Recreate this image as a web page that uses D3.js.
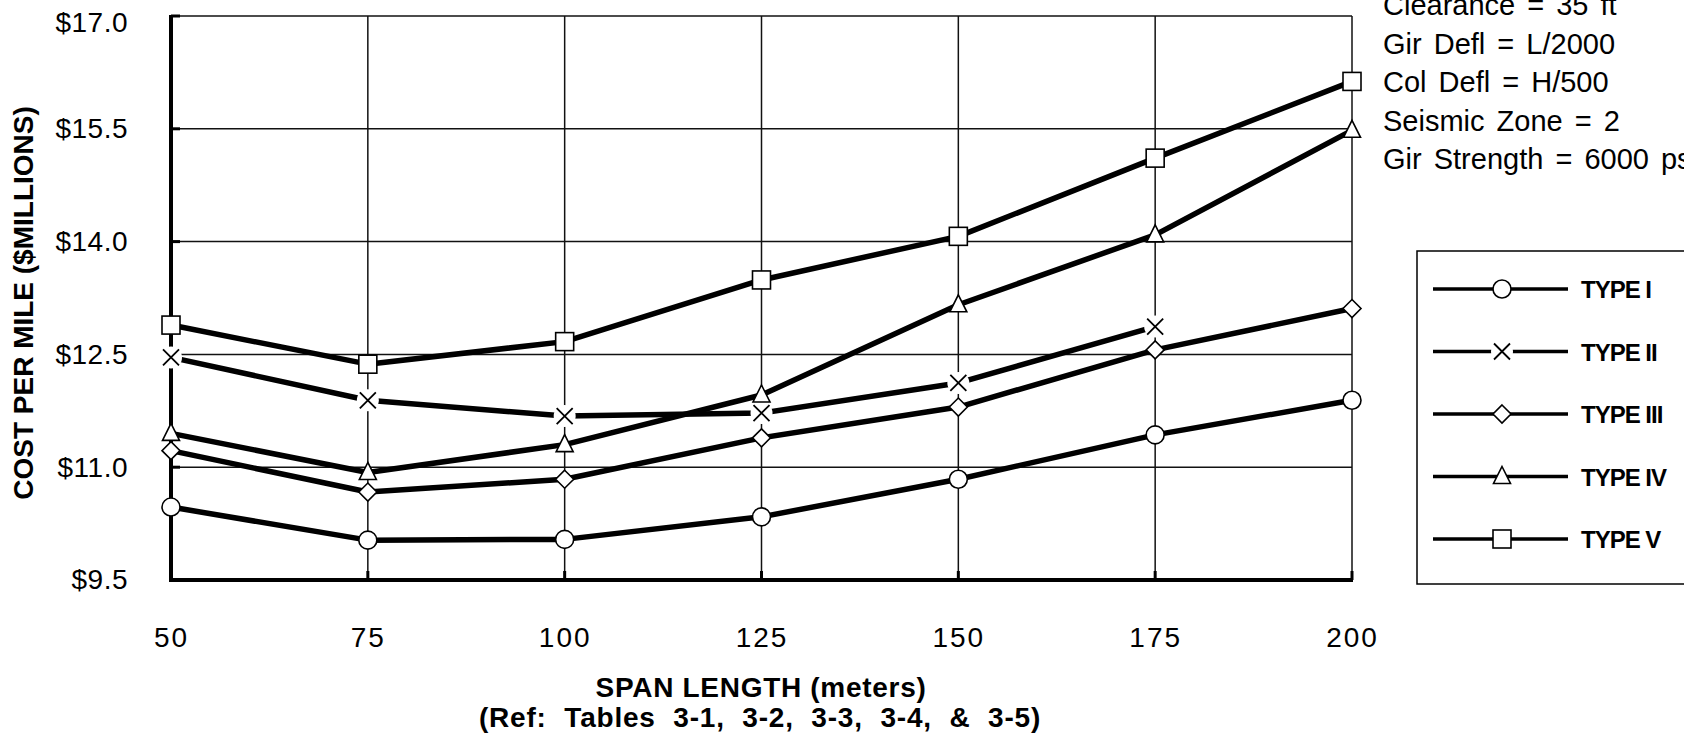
<!DOCTYPE html>
<html>
<head>
<meta charset="utf-8">
<script src="https://cdn.jsdelivr.net/npm/d3@7"></script>
<style>
  html, body { margin: 0; padding: 0; background: #fff; overflow: hidden; }
  svg { display: block; font-family: "Liberation Sans", Arial, Helvetica, sans-serif; }
</style>
</head>
<body>
<svg id="chart" width="1684" height="745"></svg>
<script>
// ---- data ----
const spans = [50, 75, 100, 125, 150, 175, 200];
const typeI   = [10.47, 10.03, 10.04, 10.34, 10.84, 11.43, 11.89];
const typeII  = [12.46, 11.89, 11.68, 11.72, 12.12, 12.87, null];
const typeIII = [11.22, 10.67, 10.84, 11.39, 11.80, 12.56, 13.11];
const typeIV  = [11.45, 10.93, 11.30, 11.96, 13.16, 14.09, 15.48];
const typeV   = [12.89, 12.37, 12.67, 13.49, 14.07, 15.11, 16.13];
const seriesNames = ["TYPE I", "TYPE II", "TYPE III", "TYPE IV", "TYPE V"];
const markerShapes = ["circle", "x", "diamond", "triangle", "square"];
const yTicks = [9.5, 11.0, 12.5, 14.0, 15.5, 17.0];
const notes = ["Clearance = 35 ft", "Gir Defl = L/2000", "Col Defl = H/500", "Seismic Zone = 2", "Gir Strength = 6000 psi"];
const yTitle = "COST PER MILE ($MILLIONS)";
const xTitle = "SPAN LENGTH (meters)";
const xSubTitle = "(Ref: Tables 3-1, 3-2, 3-3, 3-4, & 3-5)";

const seriesValues = [typeI, typeII, typeIII, typeIV, typeV];

// ---- layout ----
const svg = d3.select("#chart");
const pL = 171, pR = 1352, pT = 16, pB = 580;
const x = d3.scaleLinear().domain([50, 200]).range([pL, pR]);
const y = d3.scaleLinear().domain([9.5, 17]).range([pB, pT]);

// gridlines
const grid = svg.append("g").attr("stroke", "#111").attr("stroke-width", 1.5);
grid.selectAll("line.h").data(yTicks.filter(d => d > 9.5)).join("line").attr("class", "h")
  .attr("x1", pL).attr("x2", pR).attr("y1", d => y(d)).attr("y2", d => y(d));
grid.selectAll("line.v").data(spans.filter(d => d > 50)).join("line").attr("class", "v")
  .attr("x1", d => x(d)).attr("x2", d => x(d)).attr("y1", pT).attr("y2", pB);

// thick axes
svg.append("line").attr("x1", x(50)).attr("x2", x(50)).attr("y1", pT - 1).attr("y2", pB + 2)
  .attr("stroke", "#000").attr("stroke-width", 4);
svg.append("line").attr("x1", pL - 2).attr("x2", pR + 1).attr("y1", y(9.5)).attr("y2", y(9.5))
  .attr("stroke", "#000").attr("stroke-width", 4);
// small tick stubs
svg.append("g").selectAll("line").data(yTicks).join("line")
  .attr("x1", pL).attr("x2", pL + 9).attr("y1", d => y(d)).attr("y2", d => y(d))
  .attr("stroke", "#000").attr("stroke-width", 3);
svg.append("g").selectAll("line").data(spans).join("line")
  .attr("x1", d => x(d)).attr("x2", d => x(d)).attr("y1", pB).attr("y2", pB - 9)
  .attr("stroke", "#000").attr("stroke-width", 3);

// axes labels via d3 axes
const yAxis = svg.append("g").attr("transform", `translate(${pL},0)`)
  .call(d3.axisLeft(y).tickValues(yTicks).tickSize(0).tickPadding(43)
    .tickFormat(d => "$" + d.toFixed(1)));
yAxis.select(".domain").remove();
yAxis.selectAll("text").attr("font-size", 28).attr("fill", "#000")
  .attr("font-family", "Liberation Sans, Arial, sans-serif")
  .style("letter-spacing", "0.5px")
  .attr("dy", d => d === 17 ? "0.55em" : "0.32em");

const xAxis = svg.append("g").attr("transform", `translate(0,${pB})`)
  .call(d3.axisBottom(x).tickValues(spans).tickSize(0).tickPadding(47).tickFormat(d3.format("d")));
xAxis.select(".domain").remove();
xAxis.selectAll("text").attr("font-size", 28).attr("fill", "#000")
  .attr("font-family", "Liberation Sans, Arial, sans-serif")
  .style("letter-spacing", "2px");

// titles
svg.append("text").attr("transform", "translate(33,303) rotate(-90)")
  .attr("text-anchor", "middle").attr("font-size", 28).attr("font-weight", "bold").text(yTitle);
svg.append("text").attr("x", 761).attr("y", 697).attr("text-anchor", "middle")
  .attr("font-size", 28).attr("font-weight", "bold").style("letter-spacing", "0.7px").text(xTitle);
svg.append("text").attr("x", 760).attr("y", 727).attr("text-anchor", "middle")
  .attr("font-size", 28).attr("font-weight", "bold")
  .style("word-spacing", "9px").style("letter-spacing", "0.8px").text(xSubTitle);

// notes
svg.append("g").selectAll("text").data(notes).join("text")
  .attr("x", 1383).attr("y", (d, i) => 15 + i * 38.5)
  .attr("font-size", 29).style("word-spacing", "4px").text(d => d);

// marker drawing
function drawMarker(g, shape) {
  let el;
  if (shape === "circle") el = g.append("circle").attr("r", 9);
  else if (shape === "square") el = g.append("rect").attr("x", -9).attr("y", -9).attr("width", 18).attr("height", 18);
  else if (shape === "diamond") el = g.append("path").attr("d", "M0,-9L9,0L0,9L-9,0Z");
  else if (shape === "triangle") el = g.append("path").attr("d", "M0,-10L8.5,7L-8.5,7Z");
  else if (shape === "x") {
    g.append("circle").attr("r", 11).attr("fill", "#fff");
    g.append("path").attr("d", "M-8,-8L8,8M-8,8L8,-8").attr("fill", "none")
      .attr("stroke", "#000").attr("stroke-width", 1.8);
    return;
  }
  el.attr("fill", "#fff").attr("stroke", "#000").attr("stroke-width", 1.6);
}

// series lines
const line = d3.line().defined(d => d[1] != null).x(d => x(d[0])).y(d => y(d[1]));
seriesValues.forEach((vals) => {
  const pts = spans.map((s, i) => [s, vals[i]]);
  svg.append("path").datum(pts).attr("d", line).attr("fill", "none")
    .attr("stroke", "#000").attr("stroke-width", 5.5).attr("stroke-linejoin", "round");
});
seriesValues.forEach((vals, si) => {
  spans.forEach((s, i) => {
    if (vals[i] == null) return;
    const g = svg.append("g").attr("transform", `translate(${x(s)},${y(vals[i])})`);
    drawMarker(g, markerShapes[si]);
  });
});

// legend
svg.append("rect").attr("x", 1417).attr("y", 251).attr("width", 320).attr("height", 333)
  .attr("fill", "#fff").attr("stroke", "#000").attr("stroke-width", 1.5);
const legY = d3.scalePoint().domain(seriesNames).range([289, 539]);
seriesNames.forEach((name, i) => {
  const yy = legY(name);
  svg.append("line").attr("x1", 1433).attr("x2", 1568).attr("y1", yy).attr("y2", yy)
    .attr("stroke", "#000").attr("stroke-width", 3.5);
  const g = svg.append("g").attr("transform", `translate(1502,${yy})`);
  drawMarker(g, markerShapes[i]);
  svg.append("text").attr("x", 1581).attr("y", yy + 9).attr("font-size", 24)
    .attr("font-weight", "bold").style("letter-spacing", "-1px").text(name);
});
</script>
</body>
</html>
